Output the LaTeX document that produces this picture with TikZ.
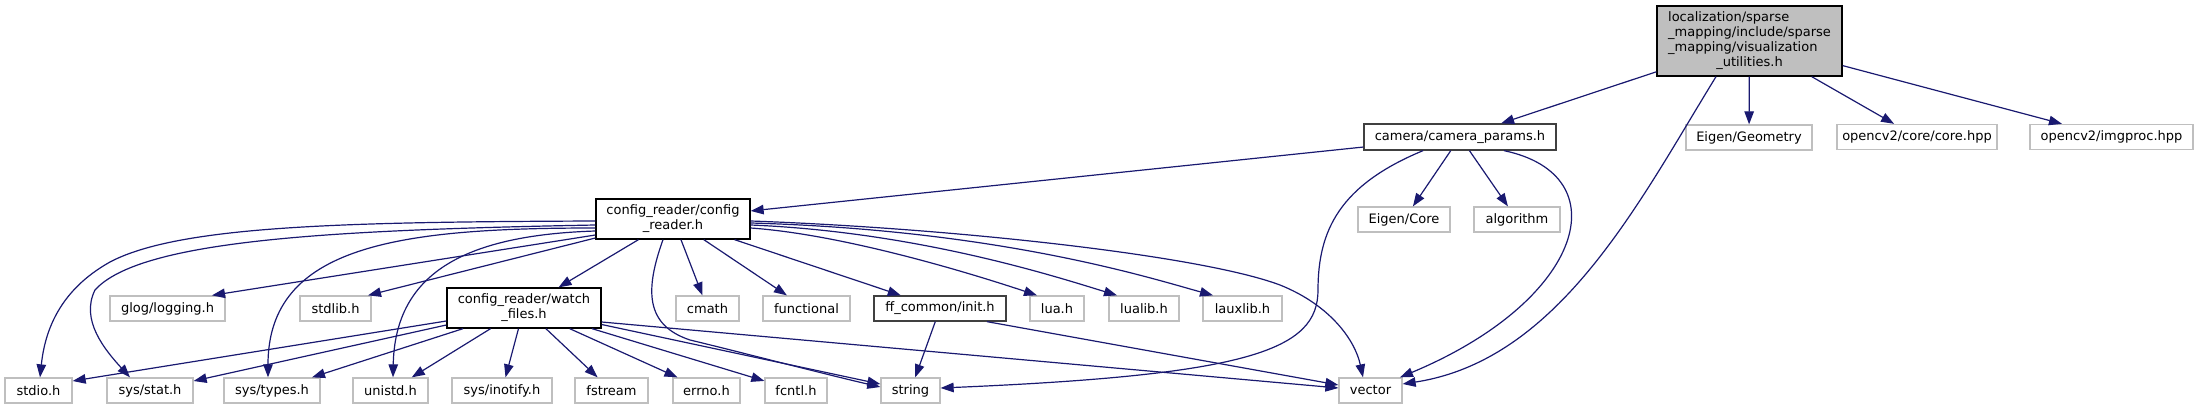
\documentclass[tikz,border=0pt]{standalone}
\usepackage{fontspec}
\setmainfont{DejaVu Sans}
\usetikzlibrary{arrows.meta}
\definecolor{edgecol}{HTML}{191970}
\definecolor{leafcol}{HTML}{BFBFBF}
\definecolor{rootfill}{HTML}{BFBFBF}
\definecolor{darkbord}{HTML}{404040}
\begin{document}
\begin{tikzpicture}[x=1pt,y=-1pt,
  box/.style={rectangle, inner sep=0pt, minimum height=25pt, line width=1.3pt,
    font=\fontsize{13}{15}\selectfont, fill=white, text=black},
  leaf/.style={box, draw=leafcol},
  inner/.style={box, draw=black},
  innerg/.style={box, draw=darkbord},
  rootbox/.style={box, draw=black, fill=rootfill},
  dep/.style={draw=edgecol, line width=1.2pt, -{Triangle[length=13pt,width=9.5pt]}}
]
\useasboundingbox (0,0) rectangle (2199,409);

% row 1
\node[rootbox, minimum width=185pt, minimum height=70pt] (root) at (1749.5,41)
  {\begin{tabular}{@{}l@{}}localization/sparse\\\_mapping/include/sparse\\\_mapping/visualization\\\multicolumn{1}{@{}c@{}}{\_utilities.h}\end{tabular}};
% row 2
\node[innerg, minimum width=192pt, minimum height=26pt] (cam) at (1460,137) {camera/camera\_params.h};
\node[leaf, minimum width=126pt] (geo) at (1749,137.5) {Eigen/Geometry};
\node[leaf, minimum width=160pt] (core) at (1917,137) {opencv2/core/core.hpp};
\node[leaf, minimum width=163pt] (imgp) at (2111.5,137) {opencv2/imgproc.hpp};
% row 3
\node[inner, minimum width=154pt, minimum height=40pt] (cfg) at (673,219)
  {\begin{tabular}{@{}l@{}}config\_reader/config\\\multicolumn{1}{@{}c@{}}{\_reader.h}\end{tabular}};
\node[leaf, minimum width=92pt] (ecore) at (1404,219.5) {Eigen/Core};
\node[leaf, minimum width=86pt] (algo) at (1517,219.5) {algorithm};
% row 4
\node[leaf, minimum width=115pt] (glog) at (167.5,308.5) {glog/logging.h};
\node[leaf, minimum width=71pt] (stdlib) at (335.5,308.5) {stdlib.h};
\node[inner, minimum width=154pt, minimum height=40pt] (watch) at (524,308)
  {\begin{tabular}{@{}l@{}}config\_reader/watch\\\multicolumn{1}{@{}c@{}}{\_files.h}\end{tabular}};
\node[leaf, minimum width=63pt] (cmath) at (707.5,308.5) {cmath};
\node[leaf, minimum width=87pt] (func) at (806.5,308.5) {functional};
\node[innerg, minimum width=132pt] (ffi) at (940,308.5) {ff\_common/init.h};
\node[leaf, minimum width=54pt] (lua) at (1057,308.5) {lua.h};
\node[leaf, minimum width=70pt] (lualib) at (1144,308.5) {lualib.h};
\node[leaf, minimum width=79pt] (lauxlib) at (1242.5,308.5) {lauxlib.h};
% row 5
\node[leaf, minimum width=67pt] (stdio) at (38.5,390.5) {stdio.h};
\node[leaf, minimum width=86pt] (sstat) at (150,390.5) {sys/stat.h};
\node[leaf, minimum width=96pt] (stypes) at (272,390.5) {sys/types.h};
\node[leaf, minimum width=75pt] (unistd) at (390.5,390.5) {unistd.h};
\node[leaf, minimum width=100pt] (inotify) at (502,390.5) {sys/inotify.h};
\node[leaf, minimum width=73pt] (fstream) at (611.5,390.5) {fstream};
\node[leaf, minimum width=67pt] (errno) at (706.5,390.5) {errno.h};
\node[leaf, minimum width=62pt] (fcntl) at (796,390.5) {fcntl.h};
\node[leaf, minimum width=59pt] (string) at (910.5,390.5) {string};
\node[leaf, minimum width=63pt] (vector) at (1370.5,390.5) {vector};

% root edges
\draw[dep] (root) -- (cam);
\draw[dep] (root) -- (geo);
\draw[dep] (root) -- (core);
\draw[dep] (root) -- (imgp);
\draw[dep] (root.south -| 1716,0) .. controls (1640,200) and (1560,360) .. (vector.east |- 0,384);

% camera edges
\draw[dep] (cam) -- (cfg);
\draw[dep] (cam) -- (ecore);
\draw[dep] (cam) -- (algo);
\draw[dep] (cam.south -| 1423,0) .. controls (1340,185) and (1318,230) .. (1318,290)
  .. controls (1318,350) and (1250,375) .. (string.east |- 0,388);
\draw[dep] (cam.south -| 1504,0) .. controls (1620,175) and (1585,300) .. (vector.north -| 1400,0);

% config_reader edges
\draw[dep] (cfg.west |- 0,221) .. controls (350,222) and (180,225) .. (110,262)
  .. controls (60,290) and (45,330) .. (stdio.north -| 40,0);
\draw[dep] (cfg.west |- 0,225) .. controls (330,230) and (140,240) .. (95,290)
  .. controls (80,320) and (105,350) .. (sstat.north -| 130,0);
\draw[dep] (cfg.west |- 0,235) -- (glog.north -| 212,0);
\draw[dep] (cfg.west |- 0,228) .. controls (400,228) and (268,245) .. (stypes.north -| 268,0);
\draw[dep] (cfg.west |- 0,238) -- (stdlib.north -| 368,0);
\draw[dep] (cfg.west |- 0,231) .. controls (470,235) and (395,270) .. (unistd.north -| 393,0);
\draw[dep] (cfg) -- (watch);
\draw[dep] (cfg.south -| 663,0) .. controls (645,290) and (645,325) .. (690,340)
  .. controls (740,352) and (820,373) .. (string.west |- 0,387);
\draw[dep] (cfg) -- (cmath);
\draw[dep] (cfg) -- (func);
\draw[dep] (cfg) -- (ffi);
\draw[dep] (cfg.east |- 0,228) .. controls (850,235) and (985,278) .. (lua.north -| 1037,0);
\draw[dep] (cfg.east |- 0,225) .. controls (920,232) and (1060,278) .. (lualib.north -| 1117,0);
\draw[dep] (cfg.east |- 0,223) .. controls (1000,230) and (1150,278) .. (lauxlib.north -| 1213,0);
\draw[dep] (cfg.east |- 0,221) .. controls (950,228) and (1200,255) .. (1280,285)
  .. controls (1330,305) and (1355,340) .. (vector.north -| 1363,0);

% watch_files edges
\draw[dep] (watch.west |- 0,321) -- (stdio.east |- 0,381);
\draw[dep] (watch.west |- 0,325) -- (sstat.east |- 0,381);
\draw[dep] (watch.south -| 463,0) -- (stypes.north -| 312,0);
\draw[dep] (watch) -- (unistd);
\draw[dep] (watch) -- (inotify);
\draw[dep] (watch) -- (fstream);
\draw[dep] (watch) -- (errno);
\draw[dep] (watch) -- (fcntl);
\draw[dep] (watch) -- (string);
\draw[dep] (watch.east |- 0,322) -- (vector.west |- 0,388);

% ff_common edges
\draw[dep] (ffi) -- (string);
\draw[dep] (ffi.south -| 987,0) -- (vector.west |- 0,385);
\end{tikzpicture}
\end{document}
